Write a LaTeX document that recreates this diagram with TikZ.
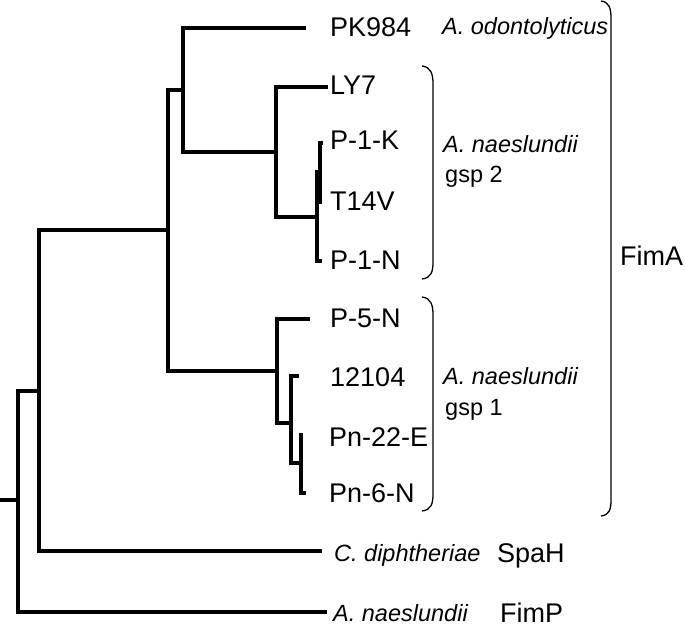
\documentclass[tikz,border=0pt]{standalone}
\usepackage{fontspec}
\setmainfont{Liberation Sans}
\begin{document}
\begin{tikzpicture}[x=1pt,y=-1pt,
    branch/.style={line width=3.9pt},
    brace/.style={line width=1.3pt},
    strain/.style={anchor=base west,inner sep=0pt,font=\fontsize{27}{32}\selectfont},
    species/.style={anchor=base west,inner sep=0pt,font=\fontsize{23.5}{28}\selectfont\itshape},
    group/.style={anchor=base west,inner sep=0pt,font=\fontsize{23.5}{28}\selectfont}]
  \useasboundingbox (0,0) rectangle (685,632);

  % internal nodes of the tree
  \coordinate (stem) at (0,500);
  \coordinate (root) at (18,500);
  \coordinate (nC) at (39,391);
  \coordinate (nB) at (168,230);
  \coordinate (nA) at (183,90);
  \coordinate (nD) at (276,152);
  \coordinate (nE) at (317,217);
  \coordinate (nF) at (320,172);
  \coordinate (nG) at (277,371);
  \coordinate (nH) at (291,423);
  \coordinate (nI) at (301,463);

  % tips
  \coordinate (t-pk) at (306,28);
  \coordinate (t-ly7) at (328,87);
  \coordinate (t-p1k) at (323,143);
  \coordinate (t-t14v) at (322,202);
  \coordinate (t-p1n) at (322,261);
  \coordinate (t-p5n) at (310,319);
  \coordinate (t-12104) at (299,376);
  \coordinate (t-pn22e) at (303,435);
  \coordinate (t-pn6n) at (306,493);
  \coordinate (t-cd) at (322,551);
  \coordinate (t-an) at (327,612);

  % strain labels
  \node[strain] (pk) at (330,36) {PK984};
  \node[strain] (ly7) at (330,94) {LY7};
  \node[strain] (p1k) at (330,149) {P-1-K};
  \node[strain] (t14v) at (330,210) {T14V};
  \node[strain] (p1n) at (330,269) {P-1-N};
  \node[strain] (p5n) at (330,327) {P-5-N};
  \node[strain] (s12104) at (330,386) {12104};
  \node[strain] (pn22e) at (329,446) {Pn-22-E};
  \node[strain] (pn6n) at (329,502) {Pn-6-N};

  % species and protein labels
  \node[species] (odon) at (442,34) {A. odontolyticus};
  \node[species] (naes2) at (443,152) {A. naeslundii};
  \node[group] (gsp2) at (445,182) {gsp 2};
  \node[species] (naes1) at (443,384) {A. naeslundii};
  \node[group] (gsp1) at (445,415) {gsp 1};
  \node[species] (cdip) at (334,561) {C. diphtheriae};
  \node[strain] (spah) at (497,562) {SpaH};
  \node[species] (naes) at (333,621) {A. naeslundii};
  \node[strain] (fimp) at (500,622) {FimP};
  \node[strain] (fima) at (620,265) {FimA};

  % branches
  \draw[branch] (stem) -- (root);
  \draw[branch] (root) |- (nC);
  \draw[branch] (root) |- (t-an);
  \draw[branch] (nC) |- (nB);
  \draw[branch] (nC) |- (t-cd);
  \draw[branch] (nB) |- (nA);
  \draw[branch] (nB) |- (nG);
  \draw[branch] (nA) |- (t-pk);
  \draw[branch] (nA) |- (nD);
  \draw[branch] (nD) |- (t-ly7);
  \draw[branch] (nD) |- (nE);
  \draw[branch] (nE) |- (nF);
  \draw[branch] (nE) |- (t-p1n);
  \draw[branch] (nF) |- (t-p1k);
  \draw[branch] (nF) |- (t-t14v);
  \draw[branch] (nG) |- (t-p5n);
  \draw[branch] (nG) |- (nH);
  \draw[branch] (nH) |- (t-12104);
  \draw[branch] (nH) |- (nI);
  \draw[branch] (nI) |- (t-pn22e);
  \draw[branch] (nI) |- (t-pn6n);

  % brackets
  \draw[brace] (422,66) .. controls (431,67) and (433,74) .. (433,84)
    -- (433,262) .. controls (433,272) and (431,278) .. (422,279);
  \draw[brace] (422,297) .. controls (431,298) and (433,305) .. (433,315)
    -- (433,494) .. controls (433,504) and (431,510) .. (422,511);
  \draw[brace] (601,1) .. controls (609,2) and (611,8) .. (611,18)
    -- (611,500) .. controls (611,510) and (609,515) .. (601,516);
\end{tikzpicture}
\end{document}
